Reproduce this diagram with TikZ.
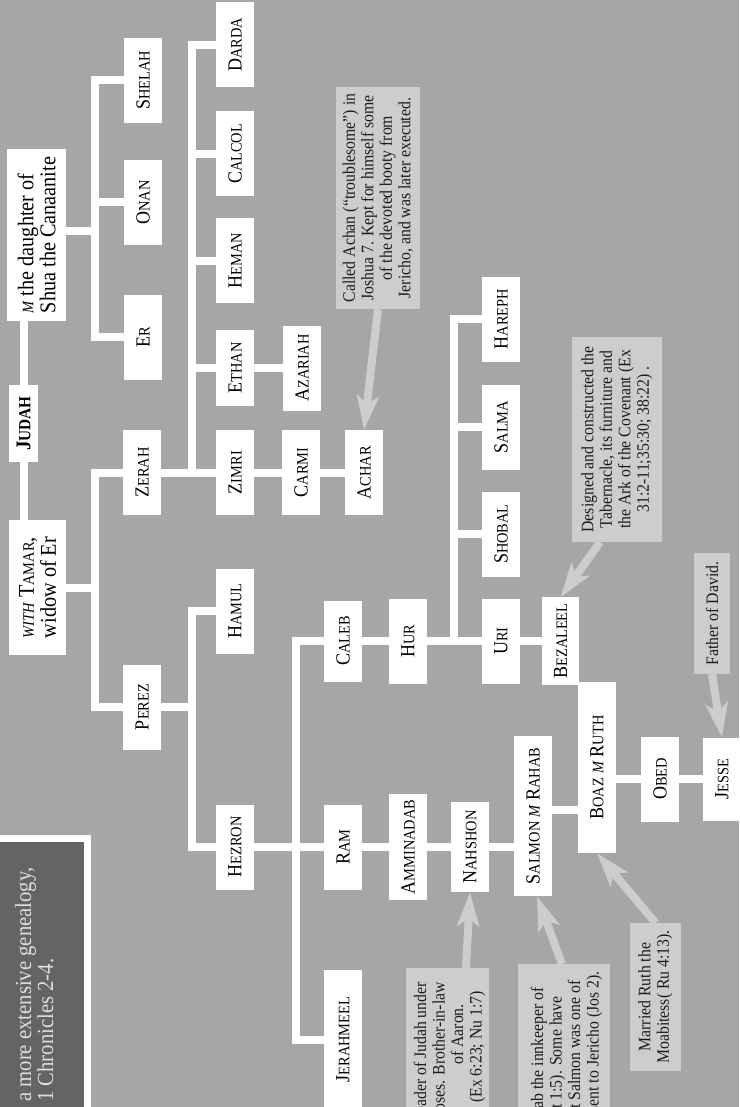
\documentclass[tikz,border=0pt]{standalone}
\usepackage{fontspec}
\setmainfont[FakeStretch=0.9]{Liberation Serif}
\usepackage{tikz}
\usetikzlibrary{arrows.meta}

\definecolor{chartbg}{RGB}{166,166,166}
\definecolor{notegray}{RGB}{205,205,205}
\definecolor{notetext}{RGB}{28,28,28}
\definecolor{darkpanel}{RGB}{100,100,100}
\definecolor{paneltext}{RGB}{222,222,222}

\newcommand{\smcap}[1]{{\fontsize{16}{17}\selectfont #1}}
\newcommand{\nm}[2]{#1\smcap{#2}}
\newcommand{\bigfont}{\fontsize{22.5}{22}\selectfont}
\newcommand{\notefont}{\fontsize{17.5}{18.5}\selectfont}

\tikzset{
  person/.style={fill=white, rotate=90, minimum width=85pt, minimum height=38pt,
    inner xsep=6pt, inner ysep=0pt, font=\fontsize{20}{21}\selectfont},
  note/.style={fill=notegray, rotate=90, text=notetext, align=center,
    font=\notefont, inner sep=2pt},
  noteline/.style={rotate=90, text=notetext, font=\notefont, inner sep=0pt, anchor=base east},
  tie/.style={draw=white, line width=8pt},
  pointer/.style={draw=notegray, line width=8pt, -{Stealth[length=34pt,width=22pt,inset=8pt]}},
}

\begin{document}
\begin{tikzpicture}[x=1pt,y=-1pt]
\useasboundingbox (0,0) rectangle (739,1107);
\fill[chartbg] (0,0) rectangle (739,1107);
\clip (0,0) rectangle (739,1107);

% Judah and his wives
\node[person, minimum width=77pt, minimum height=29pt, inner xsep=2pt] (judah) at (23.5,423.5)
  {\bfseries\fontsize{21}{22}\selectfont J{\fontsize{17}{18}\selectfont UDAH}};
\node[person, minimum width=172pt, minimum height=59pt, align=left, font=\bigfont] (shua) at (36.5,235)
  {\smcap{\itshape M} the daughter of\\Shua the Canaanite};
\node[person, minimum width=135pt, minimum height=57pt, align=left, font=\bigfont] (tamar) at (37.5,587.5)
  {\smcap{\itshape WITH} T\smcap{AMAR},\\widow of Er};

% sons
\node[person] (shelah) at (143,80.5) {\nm{S}{HELAH}};
\node[person] (onan) at (143,202.5) {\nm{O}{NAN}};
\node[person] (er) at (143,337) {\nm{E}{R}};
\node[person] (zerah) at (142,472.5) {\nm{Z}{ERAH}};
\node[person] (perez) at (142,707) {\nm{P}{EREZ}};

% Zerah's line
\node[person] (darda) at (235,45) {\nm{D}{ARDA}};
\node[person] (calcol) at (235,154) {\nm{C}{ALCOL}};
\node[person] (heman) at (235,260.5) {\nm{H}{EMAN}};
\node[person, minimum width=76pt] (ethan) at (235,368) {\nm{E}{THAN}};
\node[person] (zimri) at (235,472.5) {\nm{Z}{IMRI}};
\node[person] (azariah) at (302,368) {\nm{A}{ZARIAH}};
\node[person] (carmi) at (301,472.5) {\nm{C}{ARMI}};
\node[person] (achar) at (364,472.5) {\nm{A}{CHAR}};

% Perez's line
\node[person] (hamul) at (235,611) {\nm{H}{AMUL}};
\node[person] (hezron) at (235,847) {\nm{H}{EZRON}};
\node[person, minimum width=81pt] (caleb) at (343,641) {\nm{C}{ALEB}};
\node[person] (ram) at (343,847) {\nm{R}{AM}};
\node[person, minimum width=139pt] (jerahmeel) at (343,1039.5) {\nm{J}{ERAHMEEL}};
\node[person] (hur) at (408,641) {\nm{H}{UR}};
\node[person, minimum width=105pt] (amminadab) at (408,847) {\nm{A}{MMINADAB}};
\node[person, minimum width=90pt] (nahshon) at (470,847) {\nm{N}{AHSHON}};
\node[person] (hareph) at (501,319) {\nm{H}{AREPH}};
\node[person] (salma) at (501,427) {\nm{S}{ALMA}};
\node[person] (shobal) at (501,534) {\nm{S}{HOBAL}};
\node[person] (uri) at (501,641) {\nm{U}{RI}};
\node[person, minimum height=37pt] (bezaleel) at (560.5,641) {\nm{B}{EZALEEL}};
\node[person, minimum width=160pt] (salmon) at (533,816) {\nm{S}{ALMON} \smcap{\itshape M} \nm{R}{AHAB}};
\node[person, minimum width=171pt] (boaz) at (597,767.5) {\nm{B}{OAZ} \smcap{\itshape M} \nm{R}{UTH}};
\node[person] (obed) at (660,779) {\nm{O}{BED}};
\node[person, minimum width=83pt] (jesse) at (722,779) {\nm{J}{ESSE}};

% connectors
\coordinate (jm) at (94.5,231);
\draw[tie] (judah) -- (judah |- shua.west);
\draw[tie] (judah) -- (judah |- tamar.east);
\draw[tie] (shua.south |- jm) -- (jm);
\draw[tie] (shelah) -| (jm) |- (er);
\draw[tie] (onan) -- (onan -| jm);
\coordinate (jt) at (94.5,588);
\draw[tie] (tamar.south |- jt) -- (jt);
\draw[tie] (zerah) -| (jt) |- (perez);
\coordinate (jz) at (192,472.5);
\draw[tie] (zerah) -- (zimri) -- (carmi) -- (achar);
\draw[tie] (darda) -| (jz);
\draw[tie] (calcol) -- (calcol -| jz);
\draw[tie] (heman) -- (heman -| jz);
\draw[tie] (ethan) -- (ethan -| jz);
\draw[tie] (ethan) -- (azariah);
\coordinate (jp) at (192,707);
\draw[tie] (hamul) -| (jp) |- (hezron);
\draw[tie] (perez) -- (jp);
\coordinate (jh) at (295.5,847);
\draw[tie] (hezron) -- (ram) -- (amminadab) -- (nahshon) -- (nahshon -| salmon.north);
\draw[tie] (caleb) -| (jh) |- (jerahmeel);
\coordinate (jc) at (454,641);
\draw[tie] (caleb) -- (hur) -- (uri) -- (bezaleel);
\draw[tie] (hareph) -| (jc);
\draw[tie] (salma) -- (salma -| jc);
\draw[tie] (shobal) -- (shobal -| jc);
\coordinate (sb) at (565,810);
\draw[tie] (sb -| salmon.south) -- (sb -| boaz.north);
\draw[tie] (obed -| boaz.south) -- (obed) -- (jesse);

% notes
\node[note, minimum width=222pt, minimum height=84pt] (achannote) at (378,198)
  {Called Achan (``troublesome'') in\\Joshua 7. Kept for himself some\\of the devoted booty from\\Jericho, and was later executed.};
\node[note, minimum width=205pt, minimum height=90pt] (bezanote) at (617,439.5)
  {Designed and constructed the\\Tabernacle, its furniture and\\the Ark of the Covenant (Ex\\31:2-11;35:30; 38:22) .};
\node[note, minimum width=121pt, minimum height=36pt] (davidnote) at (712,613.5) {Father of David.};
\node[note, minimum width=148pt, minimum height=51pt] (ruthnote) at (655.5,997)
  {Married Ruth the\\Moabitess( Ru 4:13).};
\node[note, minimum width=200pt, minimum height=83pt, anchor=east] (nahnote) at (447.5,968) {};
\node[noteline] (nah1) at (426,982) {Leader of Judah under};
\node[noteline] (nah2) at (444.5,982) {Moses. Brother-in-law};
\node[noteline] (nah3) at (463,1004) {of Aaron.};
\node[noteline] (nah4) at (481.5,991) {(Ex 6:23; Nu 1:7)};
\node[note, minimum width=200pt, minimum height=92pt, anchor=east] (salnote) at (564,964) {};
\node[noteline] (sal1) at (543,987) {Married Rahab the innkeeper of};
\node[noteline] (sal2) at (561.5,996) {Jericho (Mt 1:5). Some have};
\node[noteline] (sal3) at (580,980) {suggested that Salmon was one of};
\node[noteline] (sal4) at (598.5,971) {the spies sent to Jericho (Jos 2).};

\draw[pointer] (achannote.west) -- (achar.east);
\draw[pointer] ([xshift=-17pt]bezanote.west) -- (bezaleel.east);
\draw[pointer] (davidnote.west) -- (jesse.east);
\draw[pointer] ([xshift=18.5pt]nahnote.east) -- (nahshon.west);
\draw[pointer] ([xshift=-2pt]salnote.east) -- ([xshift=4pt]salmon.west);
\draw[pointer] (ruthnote.east) -- (boaz.west);

% panel at the lower left
\filldraw[draw=white, line width=7pt, fill=darkpanel] (-20,838.5) rectangle (87.5,1140);
\node[rotate=90, anchor=base west, inner sep=0pt, text=paneltext, font=\fontsize{23}{22}\selectfont] (more1) at (31,1102)
  {a more extensive genealogy,};
\node[rotate=90, anchor=base west, inner sep=0pt, text=paneltext, font=\fontsize{23}{22}\selectfont] (more2) at (53,1102)
  {1 Chronicles 2-4.};
\end{tikzpicture}
\end{document}
